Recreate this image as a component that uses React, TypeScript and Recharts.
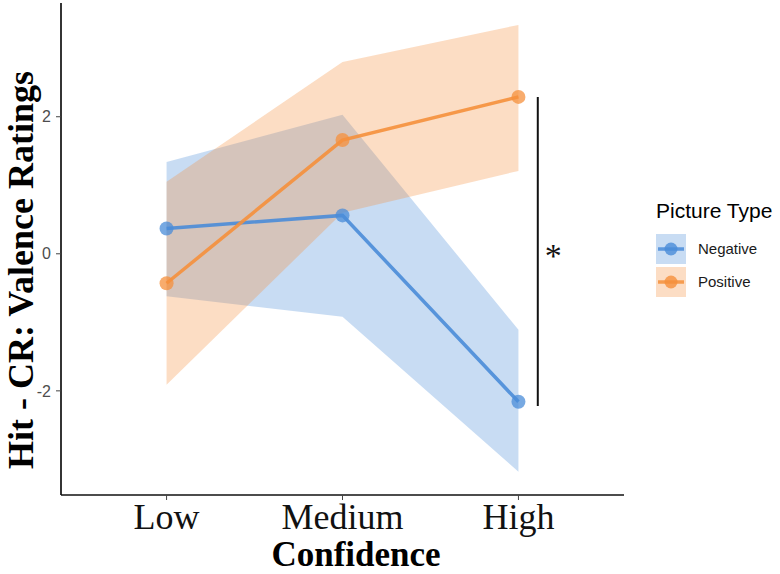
import { Area, ComposedChart, Line, ReferenceLine, XAxis, YAxis } from "recharts";

const levels = ["Low", "Medium", "High"];
const negativeMean = [0.37, 0.56, -2.16];
const negativeLower = [-0.62, -0.92, -3.18];
const negativeUpper = [1.34, 2.03, -1.11];
const positiveMean = [-0.43, 1.66, 2.29];
const positiveLower = [-1.91, 0.6, 1.21];
const positiveUpper = [1.05, 2.8, 3.34];
const yTicks = [-2, 0, 2];
const bracketSpan = [2.29, -2.22];

const BLUE = "#4a8cd8";
const ORANGE = "#f5903c";
const SERIF = "'Liberation Serif', 'Times New Roman', serif";
const SANS = "'Liberation Sans', Arial, sans-serif";

const rows = levels.map((level, i) => ({
  pos: i,
  level,
  negative: negativeMean[i],
  negativeBand: [negativeLower[i], negativeUpper[i]],
  positive: positiveMean[i],
  positiveBand: [positiveLower[i], positiveUpper[i]],
}));

const legendItems = [
  { name: "Negative", color: BLUE },
  { name: "Positive", color: ORANGE },
];

// legend sits beside the panel, outside the chart's own layout
function LegendBox() {
  return (
    <div style={{ position: "absolute", left: 656, top: 199, fontFamily: SANS, color: "#000" }}>
      <div style={{ fontSize: 21, lineHeight: "24px", marginBottom: 9 }}>Picture Type</div>
      {legendItems.map((item) => (
        <div key={item.name} style={{ display: "flex", alignItems: "center", height: 33 }}>
          <svg width={30} height={30}>
            <rect x={0} y={0} width={30} height={30} fill={item.color} fillOpacity={0.3} />
            <line x1={2} x2={28} y1={15} y2={15} stroke={item.color} strokeWidth={3.5} strokeOpacity={0.85} />
            <circle cx={15} cy={15} r={6.5} fill={item.color} fillOpacity={0.8} />
          </svg>
          <span style={{ fontSize: 15, marginLeft: 12, color: "#1a1a1a" }}>{item.name}</span>
        </div>
      ))}
    </div>
  );
}

export default function App() {
  return (
    <div style={{ position: "absolute", left: 0, top: 0, width: 780, height: 574, background: "#fff" }}>
      <ComposedChart width={780} height={574} data={rows} margin={{ top: 3, right: 156, bottom: 0, left: 0 }}>
        <XAxis
          dataKey="pos"
          type="number"
          domain={[-0.6, 2.6]}
          ticks={[0, 1, 2]}
          tickFormatter={(v: number) => levels[v]}
          height={79}
          axisLine={{ stroke: "#111", strokeWidth: 1.7 }}
          tickLine={{ stroke: "#444", strokeWidth: 1 }}
          tickSize={5}
          tickMargin={3}
          tick={{ fontFamily: SERIF, fontSize: 36, fill: "#111" }}
        />
        <YAxis
          type="number"
          domain={[-3.52, 3.66]}
          ticks={yTicks}
          width={61}
          axisLine={{ stroke: "#111", strokeWidth: 1.7 }}
          tickLine={{ stroke: "#444", strokeWidth: 1 }}
          tickSize={5}
          tickMargin={5}
          tick={{ fontFamily: SANS, fontSize: 16, fill: "#4d4d4d" }}
        />
        <Area
          dataKey="negativeBand"
          type="linear"
          stroke="none"
          fill={BLUE}
          fillOpacity={0.3}
          isAnimationActive={false}
        />
        <Area
          dataKey="positiveBand"
          type="linear"
          stroke="none"
          fill={ORANGE}
          fillOpacity={0.3}
          isAnimationActive={false}
        />
        <Line
          dataKey="negative"
          type="linear"
          stroke={BLUE}
          strokeWidth={3.5}
          strokeOpacity={0.9}
          dot={{ r: 7, fill: BLUE, fillOpacity: 0.75, stroke: "none" }}
          activeDot={false}
          isAnimationActive={false}
        />
        <Line
          dataKey="positive"
          type="linear"
          stroke={ORANGE}
          strokeWidth={3.5}
          strokeOpacity={0.9}
          dot={{ r: 7, fill: ORANGE, fillOpacity: 0.75, stroke: "none" }}
          activeDot={false}
          isAnimationActive={false}
        />
        <ReferenceLine
          segment={[
            { x: 2.11, y: bracketSpan[0] },
            { x: 2.11, y: bracketSpan[1] },
          ]}
          stroke="#111"
          strokeWidth={2}
          label={{ value: "*", position: "right", offset: 7, dy: 4, fontFamily: SERIF, fontSize: 34, fill: "#111" }}
        />
        <text
          x={33}
          y={270}
          transform="rotate(-90, 33, 270)"
          textAnchor="middle"
          fontFamily={SERIF}
          fontSize={36}
          fontWeight="bold"
          fill="#000"
        >
          Hit - CR: Valence Ratings
        </text>
        <text x={356} y={566} textAnchor="middle" fontFamily={SERIF} fontSize={35} fontWeight="bold" fill="#000">
          Confidence
        </text>
      </ComposedChart>
      <LegendBox />
    </div>
  );
}
